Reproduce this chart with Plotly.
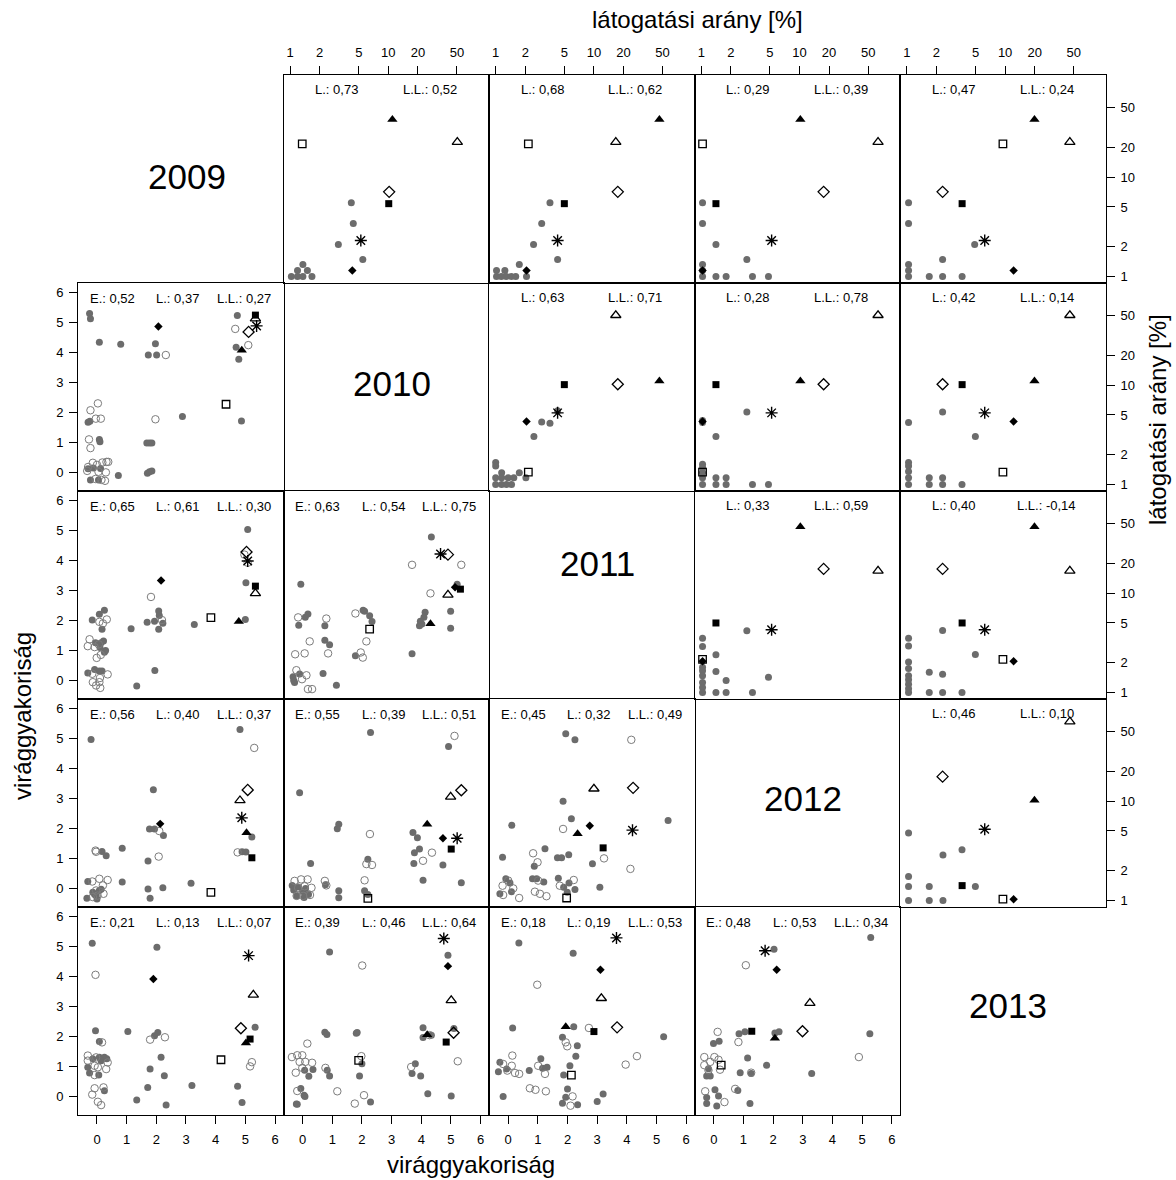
import plotly.graph_objects as go

years = ["2009", "2010", "2011", "2012", "2013"]
lin_ticks = [0, 1, 2, 3, 4, 5, 6]
log_ticks = [1, 2, 5, 10, 20, 50]

# ---- visit rates [%] of the highlighted species, years 2009..2013 ----
visit_T = [38, 11.0, 46.4, 10.2, 19.9]      # filled triangle
visit_t = [22.5, 50.4, 16.7, 63, 45.6]      # open triangle
visit_s = [21.6, 1.33, 2.15, 1.03, 9.5]     # open square
visit_d = [7.1, 10.2, 17.5, 17.6, 2.31]     # open diamond
visit_S = [5.4, 10.1, 5.0, 1.41, 3.65]      # filled square
visit_star = [2.3, 5.25, 4.27, 5.2, 6.2]    # asterisk
visit_D = [1.15, 4.3, 2.06, 1.03, 12.2]     # small filled diamond

# ---- other species in the upper panels: (x = column year, y = row year) visit rate ----
gray_0_1 = [(4.2, 5.5), (4.4, 3.4), (3.1, 2.1), (5.5, 1.48), (1.35, 1.32), (1.19, 1.15), (1.5, 1.15),
            (1.03, 1.0), (1.19, 1.0), (1.35, 1.0), (1.67, 1.0)]
gray_0_2 = [(3.57, 5.5), (2.94, 3.4), (2.43, 2.1), (4.27, 1.48), (1.74, 1.32), (1.02, 1.15), (1.24, 1.15),
            (1.02, 1.0), (1.14, 1.0), (1.28, 1.0), (1.44, 1.0), (1.6, 1.0), (2.06, 1.0)]
gray_0_3 = [(1.03, 5.5), (1.03, 3.4), (1.41, 2.1), (2.91, 1.48), (1.03, 1.32), (1.03, 1.15), (1.03, 1.0),
            (1.41, 1.0), (1.79, 1.0), (3.32, 1.0), (4.83, 1.0)]
gray_0_4 = [(1.04, 5.5), (1.04, 3.4), (4.9, 2.1), (2.31, 1.48), (1.04, 1.32), (1.04, 1.15), (1.04, 1.0),
            (1.69, 1.0), (2.31, 1.0), (3.65, 1.0)]
gray_1_2 = [(2.94, 4.26), (3.57, 4.12), (2.45, 3.03), (4.27, 5.5), (1.0, 1.66), (1.0, 1.53), (1.15, 1.31),
            (1.0, 1.17), (1.15, 1.17), (1.34, 1.17), (1.53, 1.17), (1.74, 1.31), (2.03, 1.17), (1.0, 1.0),
            (1.15, 1.0), (1.29, 1.0), (1.45, 1.0)]
gray_1_3 = [(2.91, 5.37), (1.41, 3.03), (1.03, 4.2), (1.03, 4.4), (1.03, 1.6), (1.03, 1.48), (1.03, 1.31),
            (1.03, 1.17), (1.41, 1.17), (1.79, 1.17), (1.03, 1.0), (1.41, 1.0), (1.79, 1.0), (3.32, 1.0),
            (4.83, 1.0)]
gray_1_4 = [(1.04, 4.19), (2.31, 5.37), (4.98, 3.03), (1.04, 1.66), (1.04, 1.53), (1.04, 1.35), (1.04, 1.17),
            (1.04, 1.0), (1.69, 1.17), (2.31, 1.17), (1.69, 1.0), (2.31, 1.0), (3.64, 1.0)]
gray_2_3 = [(2.91, 4.18), (1.03, 3.5), (1.03, 2.9), (1.41, 2.4), (4.83, 1.42), (1.41, 1.62), (1.79, 1.32),
            (3.32, 1.0), (1.41, 1.0), (1.79, 1.0), (1.03, 1.79), (1.03, 1.65), (1.03, 1.47), (1.03, 1.26),
            (1.03, 1.12), (1.03, 1.0)]
gray_2_4 = [(2.31, 4.21), (1.04, 3.5), (1.04, 2.93), (4.98, 2.41), (1.04, 2.02), (1.04, 1.74), (1.04, 1.47),
            (1.04, 1.34), (1.04, 1.21), (1.04, 1.09), (1.04, 1.0), (1.69, 1.6), (2.31, 1.52), (1.69, 1.0),
            (2.31, 1.0), (3.64, 1.0)]
gray_3_4 = [(1.04, 4.76), (2.33, 2.86), (3.64, 3.23), (1.04, 1.74), (1.04, 1.38), (1.69, 1.38), (4.98, 1.38),
            (1.04, 1.0), (1.69, 1.0), (2.33, 1.0)]

# ---- lower panels: jittered flower frequency (x = column year, y = row year) ----
freq_1_0 = {
    "gray": [(-0.25, 5.29), (-0.22, 5.12), (0.08, 4.34), (0.80, 4.27), (1.97, 4.29), (1.73, 3.91), (2.01, 3.91),
             (4.73, 5.23), (4.69, 4.17), (4.78, 3.77), (4.87, 1.71), (2.88, 1.86), (-0.30, 1.67), (-0.24, 1.70),
             (0.08, 1.10), (0.10, 1.02), (1.68, 0.98), (1.77, 0.98), (1.85, 0.98), (1.70, -0.03), (1.77, 0.02),
             (1.85, 0.05), (-0.12, 0.15), (0.12, 0.13), (-0.22, -0.25), (0.05, -0.25), (0.72, -0.10),
             (-0.30, 0.12)],
    "open": [(0.03, 2.30), (-0.22, 2.07), (-0.04, 1.79), (0.13, 1.79), (-0.27, 1.10), (-0.22, 0.81), (-0.33, 0.05),
             (-0.30, 0.18), (-0.14, 0.32), (0.0, 0.25), (0.18, 0.33), (0.32, 0.35), (0.38, 0.35), (0.30, 0.0),
             (0.05, 0.02), (-0.05, -0.22), (0.15, -0.25), (0.27, -0.28), (1.97, 1.77), (2.32, 3.91), (4.66, 4.78),
             (5.10, 4.24)],
    "T": [(4.88, 4.07)], "S": [(5.34, 5.24)], "t": [(5.34, 5.12)], "star": [(5.38, 4.88)],
    "d": [(5.11, 4.68)], "D": [(2.07, 4.86)], "s": [(4.35, 2.27)],
}
freq_2_0 = {
    "gray": [(5.08, 5.03), (5.02, 3.25), (5.00, 2.03), (2.08, 2.31), (1.69, 1.94), (1.94, 1.97), (2.10, 2.16),
             (2.22, 1.90), (2.08, 1.70), (1.95, 0.33), (3.28, 1.86), (1.15, 1.72), (1.34, -0.19), (-0.16, 2.01),
             (0.08, 2.20), (0.25, 2.34), (0.17, 1.70), (0.14, 1.25), (0.22, 1.31), (0.29, 1.00), (0.25, 0.94),
             (-0.31, 0.25), (-0.08, 0.36), (0.08, 0.31), (0.17, 0.31), (0.10, 1.10), (-0.05, 1.25)],
    "open": [(1.82, 2.78), (2.19, 2.01), (-0.25, 1.37), (-0.31, 1.14), (-0.08, 1.11), (0.06, 1.20), (-0.01, 0.75),
             (0.13, 0.85), (0.08, 1.95), (0.33, 2.03), (0.20, 1.90), (-0.14, -0.06), (0.08, -0.06), (-0.03, -0.17),
             (0.11, -0.25), (0.36, 0.20), (-0.16, 0.22), (0.10, 0.08), (4.97, 4.19), (5.08, 3.92)],
    "d": [(5.04, 4.28)], "star": [(5.08, 3.98)], "S": [(5.34, 3.14)], "t": [(5.34, 2.90)],
    "T": [(4.78, 1.96)], "s": [(3.84, 2.09)], "D": [(2.16, 3.33)],
}
freq_2_1 = {
    "gray": [(4.34, 4.78), (-0.06, 3.20), (5.21, 3.20), (4.99, 2.30), (4.99, 1.74), (3.69, 0.89), (4.13, 2.27),
             (4.09, 2.10), (3.97, 1.97), (4.02, 1.88), (3.94, 1.82), (2.09, 2.30), (2.04, 2.34), (2.26, 2.15),
             (2.34, 1.96), (1.78, 0.82), (0.75, 1.34), (0.91, 1.19), (0.75, 1.82), (0.18, 2.21), (0.09, 2.10),
             (-0.13, 1.84), (-0.32, 0.12), (-0.27, -0.07), (-0.10, 0.21), (0.69, 0.23), (1.14, -0.16), (-0.30, 0.0)],
    "open": [(3.69, 3.85), (5.35, 3.85), (4.31, 2.90), (-0.15, 2.10), (0.80, 2.06), (1.78, 2.23), (0.24, 1.30),
             (-0.25, 0.87), (0.07, 0.90), (0.86, 0.90), (2.15, 1.30), (1.96, 0.93), (2.03, 0.76), (-0.21, 0.34),
             (0.13, 0.17), (-0.02, 0.04), (0.18, -0.29), (0.32, -0.29)],
    "star": [(4.65, 4.21)], "d": [(4.90, 4.19)], "D": [(5.14, 3.10)], "S": [(5.32, 3.04)],
    "t": [(4.90, 2.85)], "T": [(4.31, 1.89)], "s": [(2.26, 1.71)],
}
freq_3_0 = {
    "gray": [(-0.20, 4.96), (4.82, 5.29), (1.90, 3.29), (1.77, 1.98), (1.94, 1.98), (2.24, 1.76), (5.22, 1.71),
             (4.89, 1.22), (5.02, 1.21), (0.85, 1.34), (0.17, 1.23), (0.31, 1.09), (1.72, 0.91), (0.85, 0.21),
             (3.17, 0.17), (1.72, -0.02), (2.22, 0.02), (1.79, -0.33), (-0.31, 0.23), (-0.34, -0.33),
             (-0.14, -0.13), (0.08, -0.07), (-0.03, -0.23), (0.14, -0.03), (-0.08, -0.20), (0.0, -0.35)],
    "open": [(5.30, 4.68), (-0.05, 1.26), (-0.03, 1.22), (2.10, 1.91), (2.08, 1.06), (4.74, 1.20), (-0.16, 0.23),
             (0.08, 0.32), (0.36, 0.28), (0.20, 0.10), (-0.03, -0.07), (0.02, -0.24), (0.22, -0.18), (-0.14, -0.29)],
    "d": [(5.08, 3.28)], "t": [(4.82, 2.93)], "star": [(4.88, 2.35)], "T": [(5.04, 1.85)],
    "S": [(5.22, 1.02)], "s": [(3.84, -0.13)], "D": [(2.13, 2.15)],
}
freq_3_1 = {
    "gray": [(2.29, 5.19), (-0.10, 3.19), (4.92, 4.73), (1.22, 2.14), (1.17, 1.99), (3.72, 1.86), (3.87, 1.69),
             (0.27, 0.83), (3.94, 1.31), (3.77, 1.19), (3.75, 0.83), (4.73, 0.78), (4.06, 0.27), (5.35, 0.19),
             (2.20, 0.97), (0.77, 0.12), (1.22, -0.08), (1.22, -0.31), (2.09, -0.08), (2.20, -0.20),
             (-0.35, 0.10), (-0.30, -0.05), (-0.15, 0.05), (0.0, -0.10), (0.10, 0.0), (0.20, -0.20),
             (-0.20, -0.25), (0.05, -0.30)],
    "open": [(5.12, 5.08), (2.27, 1.81), (2.15, 0.81), (2.34, 0.78), (4.36, 1.19), (4.06, 0.92), (2.09, 0.27),
             (0.75, 0.25), (0.80, 0.10), (-0.27, 0.25), (-0.05, 0.30), (0.17, 0.30), (-0.15, 0.02), (0.07, 0.07),
             (0.30, 0.02), (-0.20, -0.25), (0.02, -0.25), (0.25, -0.22)],
    "t": [(4.99, 3.05)], "d": [(5.35, 3.27)], "T": [(4.20, 2.14)], "D": [(4.73, 1.67)],
    "star": [(5.21, 1.67)], "S": [(5.01, 1.31)], "s": [(2.20, -0.33)],
}
freq_3_2 = {
    "gray": [(1.94, 5.15), (2.25, 4.95), (1.85, 2.90), (2.13, 2.32), (0.12, 2.10), (5.39, 2.26), (2.84, 0.82),
             (3.09, 0.04), (-0.19, 1.04), (1.24, 1.32), (1.66, 1.02), (1.80, 1.02), (2.04, 1.12), (0.88, 0.74),
             (0.82, 0.32), (0.96, 0.32), (1.20, 0.21), (1.69, 0.34), (2.05, 0.18), (1.87, 0.04), (1.99, -0.13),
             (2.25, -0.04), (-0.08, 0.32), (0.06, 0.18), (0.11, -0.11), (-0.28, -0.18)],
    "open": [(4.15, 4.95), (1.85, 1.98), (0.84, 1.17), (0.99, 0.87), (1.01, 0.26), (0.90, -0.11), (1.07, -0.18),
             (1.29, -0.26), (3.23, 1.00), (4.12, 0.65), (0.0, 0.26), (-0.19, 0.09), (0.17, 0.0), (-0.17, -0.22),
             (0.37, -0.32), (1.74, 0.09), (2.21, 0.28)],
    "t": [(2.89, 3.32)], "d": [(4.21, 3.35)], "D": [(2.75, 2.09)], "T": [(2.34, 1.82)],
    "star": [(4.19, 1.94)], "S": [(3.20, 1.35)], "s": [(1.97, -0.32)],
}
freq_4_0 = {
    "gray": [(-0.16, 5.10), (2.02, 4.97), (-0.05, 2.19), (1.04, 2.16), (1.94, 2.02), (2.05, 2.13), (0.08, 1.83),
             (5.33, 2.30), (2.16, 1.30), (1.79, 0.91), (2.27, 0.69), (1.71, 0.30), (3.20, 0.36), (4.74, 0.34),
             (4.89, -0.20), (1.34, -0.12), (2.33, -0.29), (0.25, 0.19), (-0.31, 0.97), (-0.25, 0.78), (0.06, 0.71),
             (-0.14, 1.25), (0.08, 1.30), (0.25, 1.30), (0.14, 1.19), (0.33, 1.25)],
    "open": [(-0.05, 4.05), (0.17, 1.80), (1.79, 1.89), (2.29, 1.97), (5.22, 1.14), (5.16, 1.00), (-0.31, 1.36),
             (-0.31, 1.19), (-0.03, 1.30), (-0.08, 1.02), (0.03, 0.97), (0.31, 0.91), (0.36, 1.13), (-0.08, 0.71),
             (-0.08, 0.27), (-0.16, 0.06), (0.22, 0.30), (0.03, -0.18), (0.14, -0.29)],
    "star": [(5.11, 4.69)], "t": [(5.27, 3.38)], "d": [(4.85, 2.27)], "S": [(5.16, 1.91)],
    "T": [(5.02, 1.78)], "s": [(4.18, 1.22)], "D": [(1.90, 3.91)],
}
freq_4_1 = {
    "gray": [(0.91, 4.81), (4.90, 4.70), (0.75, 2.14), (0.82, 2.06), (1.81, 2.10), (1.84, 2.13), (4.06, 2.29),
             (4.06, 1.96), (5.10, 2.26), (4.34, 2.04), (2.00, 1.09), (1.92, 0.68), (3.80, 1.09), (3.69, 0.76),
             (3.98, 0.68), (4.22, 0.09), (5.01, 0.01), (2.29, -0.19), (0.07, 0.87), (0.21, 0.67), (0.35, 0.90),
             (0.83, 0.87), (0.91, 0.68), (-0.06, 0.26), (0.05, 0.04), (0.08, 0.0), (-0.21, -0.25), (-0.18, -0.26)],
    "open": [(2.01, 4.36), (0.16, 1.76), (-0.36, 1.31), (-0.18, 1.37), (-0.01, 1.37), (-0.10, 1.15), (0.09, 1.15),
             (0.32, 1.12), (-0.23, 0.79), (-0.01, 0.95), (0.77, 0.95), (1.98, 1.34), (3.66, 0.98), (5.23, 1.17),
             (-0.18, 0.18), (1.17, 0.17), (1.76, -0.24), (2.07, 0.04), (4.28, 2.04)],
    "star": [(4.76, 5.26)], "D": [(4.90, 4.34)], "t": [(5.01, 3.20)], "d": [(5.09, 2.12)],
    "T": [(4.20, 2.05)], "S": [(4.84, 1.81)], "s": [(1.89, 1.20)],
}
freq_4_2 = {
    "gray": [(0.36, 5.11), (2.19, 4.77), (0.15, 2.28), (2.21, 2.32), (1.83, 1.97), (2.33, 1.69), (2.28, 1.34),
             (5.24, 1.99), (1.10, 1.25), (0.71, 0.86), (1.16, 0.94), (1.31, 0.97), (1.87, 0.71), (2.08, 1.02),
             (-0.28, 1.14), (-0.17, 0.00), (2.00, 0.25), (1.94, -0.03), (1.83, -0.23), (2.34, -0.28), (3.00, -0.17),
             (3.20, 0.08), (-0.33, 0.82), (-0.05, 0.91)],
    "open": [(0.98, 3.72), (2.72, 2.28), (0.14, 1.36), (-0.17, 1.08), (0.12, 1.02), (0.23, 0.78), (0.37, 0.75),
             (-0.03, 0.86), (1.01, 1.02), (1.24, 0.75), (0.73, 0.27), (0.92, 0.22), (1.27, 0.17), (1.94, 1.80),
             (1.99, 1.67), (4.34, 1.34), (3.96, 1.06), (2.17, 0.00), (2.10, -0.31)],
    "star": [(3.65, 5.28)], "D": [(3.11, 4.22)], "t": [(3.14, 3.27)], "T": [(1.94, 2.32)],
    "d": [(3.67, 2.30)], "S": [(2.89, 2.16)], "s": [(2.13, 0.71)],
}
freq_4_3 = {
    "gray": [(2.03, 4.90), (5.29, 5.29), (5.26, 2.09), (0.85, 2.09), (1.05, 2.15), (2.06, 2.11), (2.20, 2.15),
             (-0.01, 1.76), (0.18, 1.84), (1.14, 1.28), (1.78, 1.04), (0.89, 0.79), (1.26, 0.76), (3.30, 0.76),
             (-0.18, 0.92), (-0.24, 0.68), (-0.12, 0.68), (0.81, 0.20), (0.04, 0.22), (0.16, 0.01), (-0.24, -0.04),
             (-0.24, -0.24), (0.10, -0.32), (1.22, -0.24)],
    "open": [(1.08, 4.37), (0.13, 2.15), (0.83, 1.81), (-0.32, 1.31), (-0.32, 1.04), (0.02, 1.31), (0.16, 1.22),
             (-0.12, 1.15), (-0.18, 0.87), (0.21, 0.89), (1.26, 0.79), (0.72, 0.25), (4.89, 1.31), (-0.29, 0.17),
             (0.36, -0.19)],
    "star": [(1.73, 4.85)], "D": [(2.12, 4.22)], "t": [(3.24, 3.11)], "d": [(2.99, 2.17)],
    "S": [(1.28, 2.17)], "T": [(2.06, 1.94)], "s": [(0.25, 1.04)],
}

# ---- correlation labels ----
corr_upper_L = {(0, 1): "0,73", (0, 2): "0,68", (0, 3): "0,29", (0, 4): "0,47", (1, 2): "0,63",
                (1, 3): "0,28", (1, 4): "0,42", (2, 3): "0,33", (2, 4): "0,40", (3, 4): "0,46"}
corr_upper_LL = {(0, 1): "0,52", (0, 2): "0,62", (0, 3): "0,39", (0, 4): "0,24", (1, 2): "0,71",
                 (1, 3): "0,78", (1, 4): "0,14", (2, 3): "0,59", (2, 4): "-0,14", (3, 4): "0,10"}
corr_lower_E = {(1, 0): "0,52", (2, 0): "0,65", (2, 1): "0,63", (3, 0): "0,56", (3, 1): "0,55",
                (3, 2): "0,45", (4, 0): "0,21", (4, 1): "0,39", (4, 2): "0,18", (4, 3): "0,48"}
corr_lower_L = {(1, 0): "0,37", (2, 0): "0,61", (2, 1): "0,54", (3, 0): "0,40", (3, 1): "0,39",
                (3, 2): "0,32", (4, 0): "0,13", (4, 1): "0,46", (4, 2): "0,19", (4, 3): "0,53"}
corr_lower_LL = {(1, 0): "0,27", (2, 0): "0,30", (2, 1): "0,75", (3, 0): "0,37", (3, 1): "0,51",
                 (3, 2): "0,49", (4, 0): "0,07", (4, 1): "0,64", (4, 2): "0,53", (4, 3): "0,34"}

# ---------------------------------------------------------------------------
upper_gray = {(0, 1): gray_0_1, (0, 2): gray_0_2, (0, 3): gray_0_3, (0, 4): gray_0_4, (1, 2): gray_1_2,
              (1, 3): gray_1_3, (1, 4): gray_1_4, (2, 3): gray_2_3, (2, 4): gray_2_4, (3, 4): gray_3_4}
lower_freq = {(1, 0): freq_1_0, (2, 0): freq_2_0, (2, 1): freq_2_1, (3, 0): freq_3_0, (3, 1): freq_3_1,
              (3, 2): freq_3_2, (4, 0): freq_4_0, (4, 1): freq_4_1, (4, 2): freq_4_2, (4, 3): freq_4_3}
species_visits = {"T": visit_T, "t": visit_t, "s": visit_s, "d": visit_d, "S": visit_S,
                  "star": visit_star, "D": visit_D}

GRAY = "#6c6c6c"
OPEN = "#7c7c7c"
STYLE = {
    "gray": dict(symbol="circle", size=7, color=GRAY, line=dict(width=0)),
    "open": dict(symbol="circle-open", size=7.5, color=OPEN, line=dict(width=1, color=OPEN)),
    "T": dict(symbol="triangle-up", size=9, color="black", line=dict(width=0)),
    "t": dict(symbol="triangle-up-open", size=9, color="black", line=dict(width=1.3, color="black")),
    "S": dict(symbol="square", size=7, color="black", line=dict(width=0)),
    "s": dict(symbol="square-open", size=7.5, color="black", line=dict(width=1.3, color="black")),
    "d": dict(symbol="diamond-open", size=8.5, color="black", line=dict(width=1.3, color="black")),
    "D": dict(symbol="diamond", size=6.5, color="black", line=dict(width=0)),
    "star": dict(symbol="asterisk-open", size=10, color="black", line=dict(width=1.4, color="black")),
}
ORDER = ["gray", "open", "T", "t", "S", "s", "d", "D", "star"]

N = 5
FW, FH = 1176, 1180
L_M, R_M, T_M, B_M = 78, 70, 75, 65
PW, PH = FW - L_M - R_M, FH - T_M - B_M
LIN_X = [-0.64, 6.29]
LIN_Y = [-0.62, 6.31]
LOG_R = [-0.066, 2.027]
FONT = "Liberation Sans, Arial, Helvetica, sans-serif"


def px_x(px):
    return (px - L_M) / PW


def px_y(py):
    return 1 - (py - T_M) / PH


fig = go.Figure()
layout = dict(width=FW, height=FH, margin=dict(l=L_M, r=R_M, t=T_M, b=B_M),
              paper_bgcolor="white", plot_bgcolor="rgba(0,0,0,0)", template="none",
              showlegend=False, font=dict(family=FONT, color="black"))
annotations = []


def axname(k, ax):
    return ax if k == 1 else f"{ax}{k}"


def note(text, x, y, size, xref="paper", yref="paper", angle=0):
    return dict(text=text, xref=xref, yref=yref, x=x, y=y, xanchor="center", yanchor="middle",
                showarrow=False, textangle=angle, font=dict(size=size, family=FONT, color="black"))


# year labels on the diagonal (page pixel positions of their centres)
year_pos = [(187, 176), (392, 383), (597, 563), (803, 798), (1008, 1005)]

for i in range(N):
    for j in range(N):
        k = i * N + j + 1
        xa, ya = axname(k, "xaxis"), axname(k, "yaxis")
        xr, yr = axname(k, "x"), axname(k, "y")
        xdom = [j / N, (j + 1) / N]
        ydom = [1 - (i + 1) / N, 1 - i / N]
        base = dict(showline=True, linecolor="black", linewidth=1, mirror=True, showgrid=False,
                    zeroline=False, ticks="", showticklabels=False, fixedrange=True,
                    tickfont=dict(size=13, family=FONT, color="black"), ticklen=8, tickwidth=1,
                    tickcolor="black")
        if i == j:
            layout[xa] = dict(domain=xdom, anchor=yr, visible=False, range=[0, 1])
            layout[ya] = dict(domain=ydom, anchor=xr, visible=False, range=[0, 1])
            px, py = year_pos[i]
            annotations.append(note(years[i], px_x(px), px_y(py), 35))
            continue
        if i > j:
            xax = dict(base, domain=xdom, anchor=yr, range=LIN_X)
            yax = dict(base, domain=ydom, anchor=xr, range=LIN_Y)
            if i == N - 1:
                xax.update(ticks="outside", showticklabels=True, tickvals=lin_ticks, side="bottom",
                           ticklabelstandoff=4)
            if j == 0:
                yax.update(ticks="outside", showticklabels=True, tickvals=lin_ticks, side="left",
                           ticklabelstandoff=3)
            data = lower_freq[(i, j)]
            for key in ORDER:
                pts = data.get(key, [])
                if not pts:
                    continue
                fig.add_trace(go.Scatter(x=[p[0] for p in pts], y=[p[1] for p in pts], mode="markers",
                                         marker=STYLE[key], xaxis=xr, yaxis=yr, hoverinfo="skip",
                                         cliponaxis=False))
            for txt, xp in (("E.: " + corr_lower_E[(i, j)], 0.166), ("L.: " + corr_lower_L[(i, j)], 0.484),
                            ("L.L.: " + corr_lower_LL[(i, j)], 0.806)):
                annotations.append(note(txt, xp, 0.925, 13, f"{xr} domain", f"{yr} domain"))
        else:
            xax = dict(base, domain=xdom, anchor=yr, type="log", range=LOG_R)
            yax = dict(base, domain=ydom, anchor=xr, type="log", range=LOG_R)
            if i == 0:
                xax.update(ticks="outside", showticklabels=True, tickvals=log_ticks,
                           ticktext=[str(v) for v in log_ticks], side="top", ticklabelstandoff=4)
            if j == N - 1:
                yax.update(ticks="outside", showticklabels=True, tickvals=log_ticks,
                           ticktext=[str(v) for v in log_ticks], side="right", ticklabelstandoff=3)
            pts = upper_gray[(i, j)]
            fig.add_trace(go.Scatter(x=[p[0] for p in pts], y=[p[1] for p in pts], mode="markers",
                                     marker=STYLE["gray"], xaxis=xr, yaxis=yr, hoverinfo="skip",
                                     cliponaxis=False))
            for key in ["T", "t", "S", "s", "d", "D", "star"]:
                v = species_visits[key]
                fig.add_trace(go.Scatter(x=[v[j]], y=[v[i]], mode="markers", marker=STYLE[key],
                                         xaxis=xr, yaxis=yr, hoverinfo="skip", cliponaxis=False))
            for txt, xp in (("L.: " + corr_upper_L[(i, j)], 0.258), ("L.L.: " + corr_upper_LL[(i, j)], 0.711)):
                annotations.append(note(txt, xp, 0.93, 13, f"{xr} domain", f"{yr} domain"))
        layout[xa] = xax
        layout[ya] = yax

annotations += [
    note("látogatási arány [%]", px_x(697), px_y(20), 24),
    note("virággyakoriság", px_x(471), px_y(1164), 24),
    note("virággyakoriság", px_x(22), px_y(716), 24, angle=-90),
    note("látogatási arány [%]", px_x(1158), px_y(420), 24, angle=-90),
]
layout["annotations"] = annotations
fig.update_layout(**layout)
# remove the default 8px page margin so the 1176x1180 figure fills the window exactly
fig.write_html("out.html", config={"displayModeBar": False, "staticPlot": True},
               post_script="document.body.style.margin='0';document.body.style.overflow='hidden';")
